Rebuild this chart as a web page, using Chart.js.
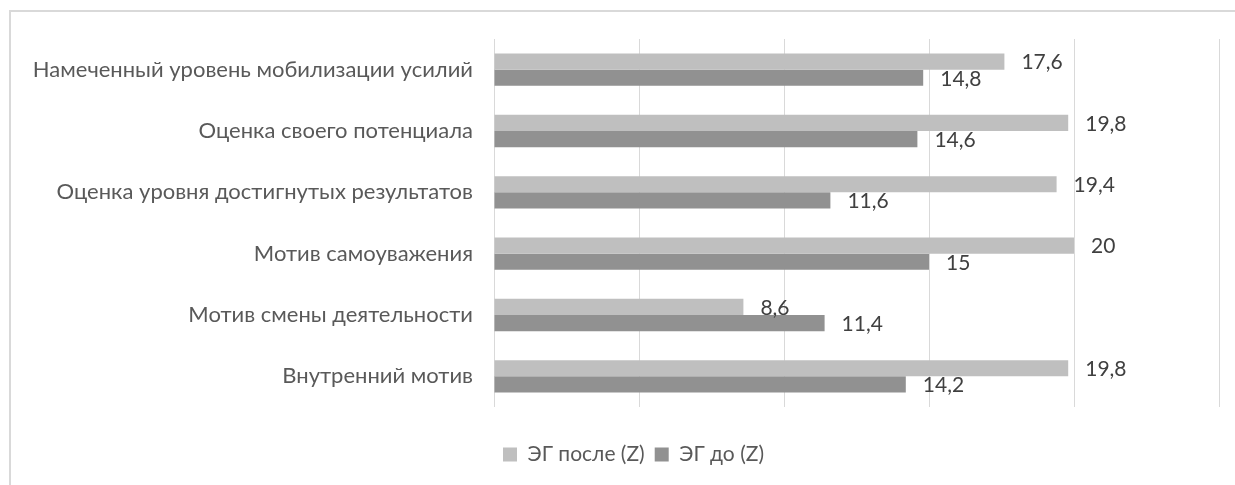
<!DOCTYPE html>
<html>
<head>
<meta charset="utf-8">
<script src="https://cdn.jsdelivr.net/npm/chart.js@4.4.1/dist/chart.umd.min.js"></script>
<style>
html,body{margin:0;padding:0;background:#fff;overflow:hidden}
#frame{position:absolute;left:9px;top:10px;width:1300px;height:600px;border-top:2px solid #d9d9d9;border-left:2px solid #d9d9d9}
#wrap{position:absolute;left:0;top:0;width:1235px;height:485px}
</style>
</head>
<body>
<div id="frame"></div>
<div id="wrap"><canvas id="c"></canvas></div>
<script>
const categories = ['Намеченный уровень мобилизации усилий','Оценка своего потенциала','Оценка уровня достигнутых результатов','Мотив самоуважения','Мотив смены деятельности','Внутренний мотив'];
const afterZ = [17.6, 19.8, 19.4, 20, 8.6, 19.8];
const beforeZ = [14.8, 14.6, 11.6, 15, 11.4, 14.2];
const seriesNames = ['ЭГ после (Z)','ЭГ до (Z)'];
const xTicks = [0,5,10,15,20,25];

const FONT = 'Lato, "Open Sans", sans-serif';
function fmt(v){ return String(v).replace('.',','); }

const valueLabels = {
  id:'valueLabels',
  afterDatasetsDraw(chart){
    const ctx=chart.ctx;
    ctx.save();
    ctx.font='21px '+FONT; ctx.fillStyle='#404040'; ctx.textBaseline='middle'; ctx.textAlign='left';
    chart.data.datasets.forEach((ds,i)=>{
      chart.getDatasetMeta(i).data.forEach((bar,j)=>{ ctx.fillText(fmt(ds.data[j]), bar.x+17, bar.y+1); });
    });
    ctx.restore();
  }
};

// legend sits a bit right of the canvas centre in the original
const legendShift = {
  id:'legendShift',
  afterLayout(chart){ chart.legend.left+=24; chart.legend.right+=24; }
};

new Chart(document.getElementById('c'),{
  type:'bar',
  data:{labels:categories,datasets:[
    {label:seriesNames[0],data:afterZ,backgroundColor:'#bfbfbf',categoryPercentage:0.527,barPercentage:1},
    {label:seriesNames[1],data:beforeZ,backgroundColor:'#919191',categoryPercentage:0.527,barPercentage:1}
  ]},
  options:{
    indexAxis:'y',responsive:true,maintainAspectRatio:false,animation:false,
    layout:{padding:{top:39,right:16,bottom:10,left:0}},
    scales:{
      x:{min:xTicks[0],max:xTicks[xTicks.length-1],afterBuildTicks:s=>{s.ticks=xTicks.map(v=>({value:v}));},
        ticks:{display:false},grid:{color:'#d9d9d9',lineWidth:1,drawTicks:false},border:{display:false},
        afterFit:s=>{s.height=27;}},
      y:{grid:{display:false,drawTicks:false},border:{display:false},
        ticks:{color:'#595959',font:{family:FONT,size:22},padding:21},
        afterFit:s=>{s.width=494;}}
    },
    plugins:{
      legend:{position:'bottom',labels:{boxWidth:14,boxHeight:14,padding:10,color:'#595959',font:{family:FONT,size:21}}},
      tooltip:{enabled:false}
    }
  },
  plugins:[valueLabels,legendShift]
});
</script>
</body>
</html>
